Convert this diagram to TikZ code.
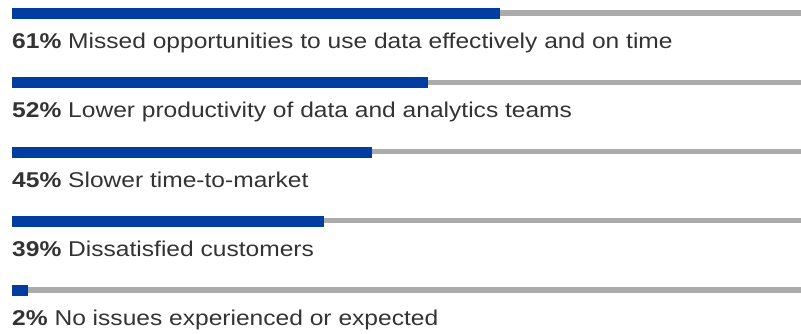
\documentclass[tikz,border=0pt]{standalone}
\usepackage{fontspec}
\setmainfont{Liberation Sans}
\definecolor{barblue}{HTML}{003DA0}
\definecolor{bargrey}{HTML}{ABABAB}
\definecolor{txt}{HTML}{333333}
\newcommand{\widetxt}[1]{\scalebox{1.148}[1]{#1}}
\begin{document}
\begin{tikzpicture}[x=1pt,y=-1pt,
  lbl/.style={anchor=base west,inner sep=0pt,text=txt,font=\fontsize{21.4}{24}\selectfont},
  bluebar/.style={fill=barblue},
  greybar/.style={fill=bargrey}]
\useasboundingbox (0,0) rectangle (801,333);
\foreach \i/\p/\t in {0/61/Missed opportunities to use data effectively and on time,
                      1/52/Lower productivity of data and analytics teams,
                      2/45/Slower time-to-market,
                      3/39/Dissatisfied customers,
                      4/2/No issues experienced or expected}{
  \pgfmathsetmacro{\yy}{8+69.25*\i}
  \pgfmathsetmacro{\xe}{12+8*\p}
  \fill[greybar] (12,\yy+2.4) rectangle (801,\yy+7.7);
  \fill[bluebar] (12,\yy) rectangle (\xe,\yy+11);
  \node[lbl] (t\i) at (12,\yy+40.5) {\widetxt{\textbf{\p\%} \t}};
}
\end{tikzpicture}
\end{document}
